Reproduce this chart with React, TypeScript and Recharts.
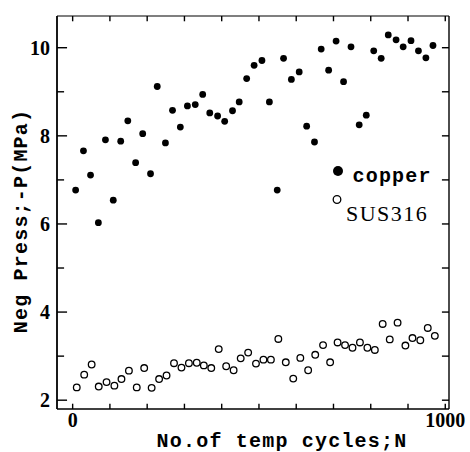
import React from "react"
import { ScatterChart, Scatter, XAxis, YAxis, Legend, Label, ReferenceLine } from "recharts"

// cycles / pressure
const copperN = [8, 29, 48, 69, 88, 109, 129, 148, 169, 188, 209, 227, 249, 268, 289, 308, 329, 349, 368, 389, 408, 429, 447, 467, 487, 508, 528, 549, 566, 587, 608, 628, 649, 667, 687, 707, 727, 747, 769, 788, 808, 828, 847, 868, 887, 908, 928, 948, 967]
const copperP = [6.77, 7.66, 7.11, 6.03, 7.91, 6.54, 7.88, 8.34, 7.39, 8.05, 7.14, 9.12, 7.84, 8.58, 8.2, 8.68, 8.71, 8.94, 8.52, 8.45, 8.33, 8.57, 8.77, 9.3, 9.6, 9.71, 8.77, 6.77, 9.76, 9.28, 9.45, 8.22, 7.86, 9.97, 9.49, 10.15, 9.23, 10.02, 8.25, 8.47, 9.93, 9.76, 10.29, 10.18, 10.02, 10.16, 9.93, 9.77, 10.05]

const susN = [11, 31, 51, 70, 91, 112, 131, 151, 172, 192, 212, 232, 252, 272, 292, 312, 333, 352, 372, 392, 412, 432, 451, 471, 492, 512, 532, 552, 572, 592, 611, 632, 651, 672, 691, 711, 731, 751, 771, 791, 811, 832, 851, 872, 893, 912, 933, 953, 972]
const susP = [2.29, 2.58, 2.81, 2.31, 2.41, 2.33, 2.48, 2.67, 2.29, 2.73, 2.28, 2.48, 2.56, 2.84, 2.74, 2.84, 2.85, 2.79, 2.73, 3.16, 2.77, 2.68, 2.95, 3.08, 2.83, 2.92, 2.92, 3.39, 2.86, 2.49, 2.96, 2.68, 3.03, 3.25, 2.86, 3.31, 3.25, 3.19, 3.31, 3.19, 3.14, 3.73, 3.38, 3.76, 3.24, 3.41, 3.36, 3.64, 3.46]

const xTicks = [0, 100, 200, 300, 400, 500, 600, 700, 800, 900, 1000]
const xLabels = [0, 1000]
const yTicks = [2, 3, 4, 5, 6, 7, 8, 9, 10]
const yLabels = [2, 4, 6, 8, 10]

const copperData = copperN.map((n, i) => ({ n, p: copperP[i] }))
const susData = susN.map((n, i) => ({ n, p: susP[i] }))

const X_MIN = -42
const X_MAX = 1010
const Y_MIN = 1.8
const Y_MAX = 10.72

// inward tick lengths, in axis units (~5px on x ticks, ~10/7px on y ticks)
const X_TICK_LEN = 0.12
const Y_TICK_MAJOR = 27
const Y_TICK_MINOR = 19

const W = 470
const H = 452
const AXIS_W = 57
const AXIS_H = 43
const M = { top: 15, right: 20, bottom: 0, left: 0 }

const MONO = "'Liberation Mono', 'DejaVu Sans Mono', monospace"
const SERIF = "'Liberation Serif', 'DejaVu Serif', serif"

const XTick = (props: any) => {
  const { x, payload } = props
  if (!xLabels.includes(payload.value)) return null
  return (
    <text x={Number(x)} y={H - AXIS_H + 18} textAnchor="middle" fontFamily={SERIF} fontWeight="bold" fontSize={20} fill="#000">
      {payload.value}
    </text>
  )
}

const YTick = (props: any) => {
  const { y, payload } = props
  if (!yLabels.includes(payload.value)) return null
  return (
    <text x={AXIS_W - 7} y={Number(y) + 7} textAnchor="end" fontFamily={SERIF} fontWeight="bold" fontSize={20} fill="#000">
      {payload.value}
    </text>
  )
}

const noTick = () => null

const Dot = (props: any) => <circle cx={props.cx} cy={props.cy} r={3.4} fill="#000" />
const Ring = (props: any) => (
  <circle cx={props.cx} cy={props.cy} r={3.3} fill="#fff" stroke="#000" strokeWidth={1.3} />
)

const LegendBox = () => (
  <svg width={130} height={75}>
    <circle cx={13} cy={16} r={5} fill="#000" />
    <text x={27.5} y={27} fontFamily={MONO} fontWeight="bold" fontSize={20} letterSpacing={1.2} fill="#000">
      copper
    </text>
    <circle cx={12} cy={44.5} r={3.8} fill="#fff" stroke="#000" strokeWidth={1.3} />
    <text x={21} y={66} fontFamily={SERIF} fontSize={22} letterSpacing={1.5} fill="#000">
      SUS316
    </text>
  </svg>
)

export default function App() {
  // tick marks drawn as short reference segments, inward from each side of the frame
  const xTickMarks = xTicks.flatMap((t) => [
    <ReferenceLine key={`xb${t}`} segment={[{ x: t, y: Y_MIN }, { x: t, y: Y_MIN + X_TICK_LEN }]} stroke="#000" strokeWidth={1.4} />,
    <ReferenceLine key={`xt${t}`} segment={[{ x: t, y: Y_MAX }, { x: t, y: Y_MAX - X_TICK_LEN }]} stroke="#000" strokeWidth={1.4} />,
  ])
  const yTickMarks = yTicks.flatMap((v) => [
    <ReferenceLine
      key={`yl${v}`}
      segment={[{ x: X_MIN, y: v }, { x: X_MIN + (yLabels.includes(v) ? Y_TICK_MAJOR : Y_TICK_MINOR), y: v }]}
      stroke="#000"
      strokeWidth={1.4}
    />,
    <ReferenceLine key={`yr${v}`} segment={[{ x: X_MAX, y: v }, { x: X_MAX - Y_TICK_MINOR, y: v }]} stroke="#000" strokeWidth={1.4} />,
  ])

  return (
    <div style={{ position: "absolute", left: 0, top: 0, background: "#fff" }}>
      <ScatterChart width={W} height={H} margin={M}>
        <XAxis
          type="number"
          dataKey="n"
          domain={[X_MIN, X_MAX]}
          ticks={xTicks}
          interval={0}
          height={AXIS_H}
          tickSize={0}
          tickMargin={0}
          tickLine={false}
          axisLine={{ stroke: "#000", strokeWidth: 1.6 }}
          tick={<XTick />}
        >
          <Label
            content={() => (
              <text x={282} y={447} textAnchor="middle" fontFamily={MONO} fontWeight="bold" fontSize={20} letterSpacing={1.2} fill="#000">
                No.of temp cycles;N
              </text>
            )}
          />
        </XAxis>
        <XAxis
          xAxisId="top"
          orientation="top"
          type="number"
          domain={[X_MIN, X_MAX]}
          height={1}
          tickLine={false}
          tick={noTick}
          axisLine={{ stroke: "#000", strokeWidth: 1.2 }}
        />
        <YAxis
          type="number"
          dataKey="p"
          domain={[Y_MIN, Y_MAX]}
          ticks={yTicks}
          interval={0}
          width={AXIS_W}
          tickSize={0}
          tickMargin={0}
          tickLine={false}
          axisLine={{ stroke: "#000", strokeWidth: 1.8 }}
          tick={<YTick />}
        >
          <Label
            content={() => (
              <text x={27} y={221} transform="rotate(-90, 27, 221)" textAnchor="middle" fontFamily={MONO} fontWeight="bold" fontSize={20} letterSpacing={1.2} fill="#000">
                Neg Press;-P(MPa)
              </text>
            )}
          />
        </YAxis>
        <YAxis
          yAxisId="right"
          orientation="right"
          type="number"
          domain={[Y_MIN, Y_MAX]}
          width={1}
          tickLine={false}
          tick={noTick}
          axisLine={{ stroke: "#000", strokeWidth: 1.4 }}
        />
        {xTickMarks}
        {yTickMarks}
        <Scatter name="copper" data={copperData} shape={<Dot />} isAnimationActive={false} />
        <Scatter name="SUS316" data={susData} shape={<Ring />} isAnimationActive={false} />
        <Legend
          layout="horizontal"
          verticalAlign="middle"
          align="center"
          content={() => <LegendBox />}
          wrapperStyle={{ left: 325, top: 155, width: 130, height: 75 }}
        />
      </ScatterChart>
    </div>
  )
}
